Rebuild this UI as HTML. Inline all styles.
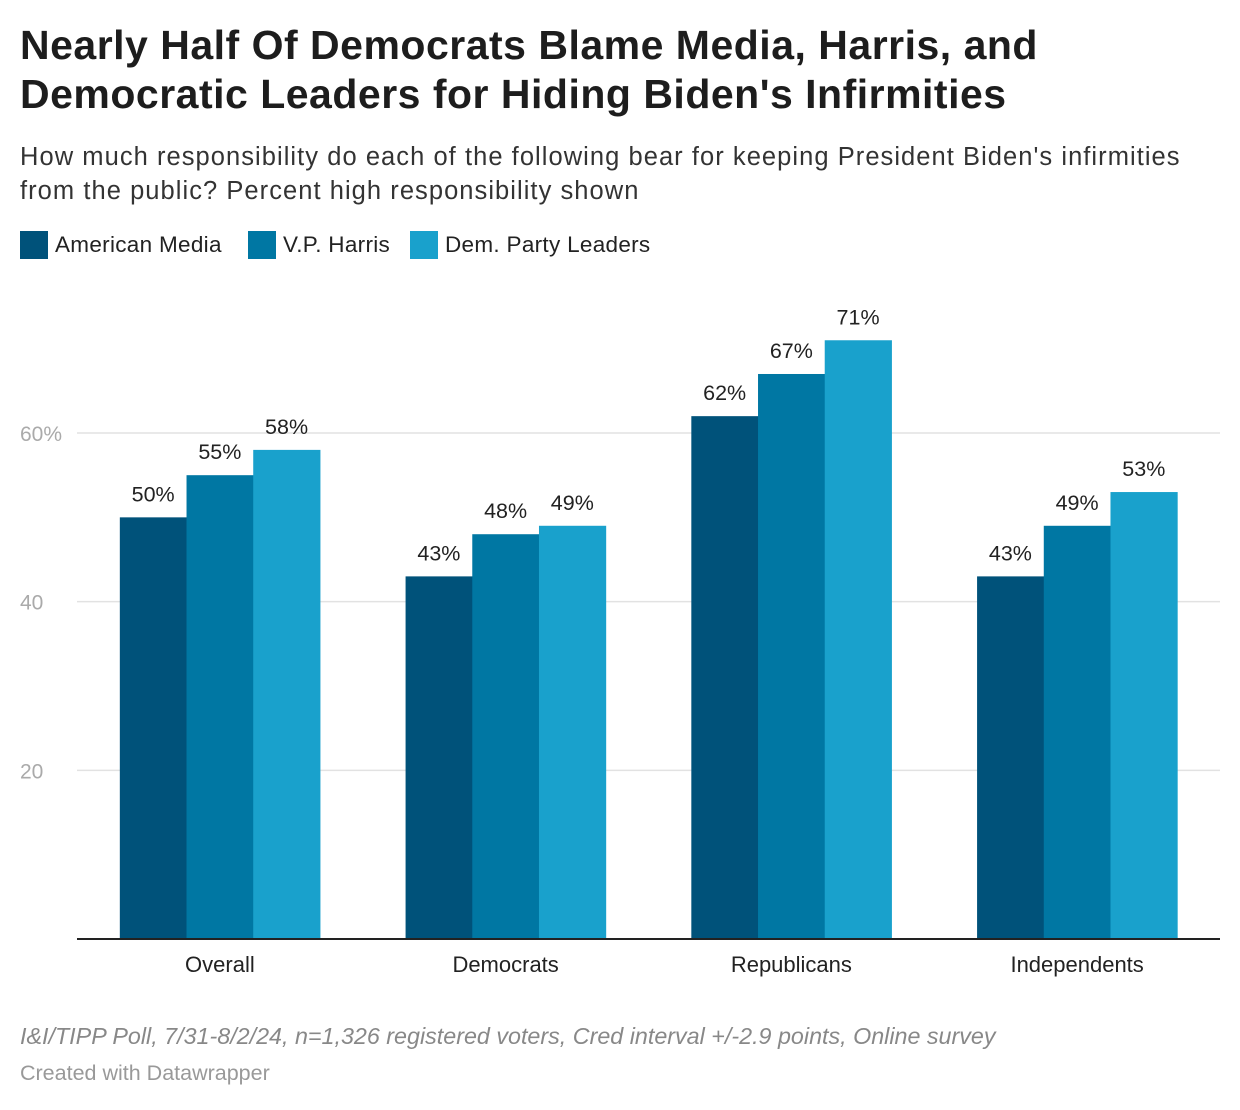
<!DOCTYPE html>
<html><head><meta charset="utf-8"><style>
body{margin:0;background:#fff;font-family:"Liberation Sans",sans-serif;color:#1d1d1d;width:1240px;height:1110px;overflow:hidden;position:relative}
.t{position:absolute;left:20px;top:21px;font-size:41px;font-weight:bold;line-height:49px;letter-spacing:0.5px;margin:0;width:1220px;white-space:nowrap}
.s{position:absolute;left:20px;top:140px;font-size:25.5px;line-height:34px;color:#333;width:1220px;white-space:nowrap;letter-spacing:1.05px}
.lg{position:absolute;top:231px;font-size:22.5px;line-height:28px;color:#222;letter-spacing:0.3px}
.lg i{display:inline-block;width:28px;height:28px;vertical-align:top;margin-right:7px}
.n{position:absolute;left:20px;top:1023px;font-size:23.3px;font-style:italic;color:#888;white-space:nowrap}
.c{position:absolute;left:20px;top:1061px;font-size:21.5px;color:#999}
</style></head><body>
<h1 class="t">Nearly Half Of Democrats Blame Media, Harris, and<br>Democratic Leaders for Hiding Biden's Infirmities</h1>
<div class="s">How much responsibility do each of the following bear for keeping President Biden's infirmities<br>from the public? Percent high responsibility shown</div>
<div class="lg" style="left:20px"><i style="background:#00527a"></i>American Media</div>
<div class="lg" style="left:248px"><i style="background:#0077a3"></i>V.P. Harris</div>
<div class="lg" style="left:410px"><i style="background:#19a1cc"></i>Dem. Party Leaders</div>
<svg id="ch" width="1240" height="1110" style="position:absolute;left:0;top:0"></svg>
<div class="n">I&amp;I/TIPP Poll, 7/31-8/2/24, n=1,326 registered voters, Cred interval +/-2.9 points, Online survey</div>
<div class="c">Created with Datawrapper</div>
<script>
const categories=["Overall","Democrats","Republicans","Independents"];
const media=[50,43,62,43];
const harris=[55,48,67,49];
const leaders=[58,49,71,53];
const ticks=[20,40,60];
const tickLabels=["20","40","60%"];
const colors=["#00527a","#0077a3","#19a1cc"];
const NS="http://www.w3.org/2000/svg";
const svg=document.getElementById('ch');
const x0=77,x1=1220,y0=939,pxPer=8.433;
const y=v=>y0-v*pxPer;
const gw=(x1-x0)/categories.length;
const gx=i=>x0+gw*(i+0.5);
function mk(t,a){const e=document.createElementNS(NS,t);for(const k in a)e.setAttribute(k,a[k]);svg.appendChild(e);return e;}
ticks.forEach((t,i)=>{
 const l=mk('line',{x1:x0,x2:x1,y1:y(t),y2:y(t),stroke:'#e2e2e2','stroke-width':1.5});
 
 
 const tx=mk('text',{x:20,y:y(t)+8,'font-size':21,fill:'#aaa','font-family':'Liberation Sans, sans-serif'});
 tx.textContent=tickLabels[i];
 
 
});
const series=[media,harris,leaders];
const bw=66.7;
categories.forEach((c,i)=>{
 series.forEach((s,j)=>{
  const bx=gx(i)-1.5*bw+j*bw;
  const r=mk('rect',{x:bx,y:y(s[i]),width:bw+0.5,height:y0-y(s[i]),fill:colors[j]});
  
  
  const tl=mk('text',{x:bx+bw/2,y:y(s[i])-16,'font-size':21.5,fill:'#222','text-anchor':'middle','font-family':'Liberation Sans, sans-serif'});
  tl.textContent=s[i]+'%';
  
  
 });
 const cl=mk('text',{x:gx(i),y:972,'font-size':22,fill:'#222','text-anchor':'middle','font-family':'Liberation Sans, sans-serif'});
 cl.textContent=c;
 
 
});
const b=mk('line',{x1:x0,x2:x1,y1:y0,y2:y0,stroke:'#222','stroke-width':2});


</script>
</body></html>
